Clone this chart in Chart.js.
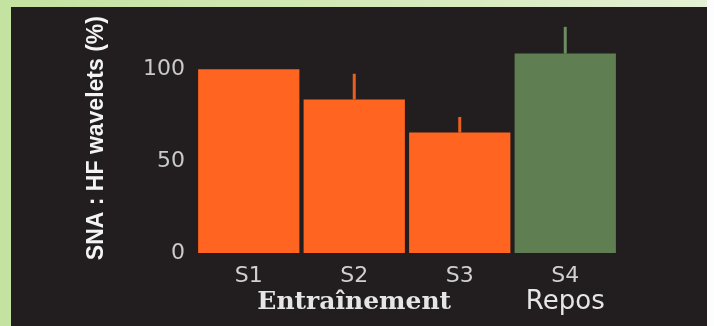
<!DOCTYPE html>
<html>
<head>
<meta charset="utf-8">
<script src="https://cdn.jsdelivr.net/npm/chart.js@4"></script>
<style>
    html, body { margin: 0; padding: 0; }
    body {
        width: 714px; height: 326px; position: relative; overflow: hidden;
        background: linear-gradient(90deg, #c4e2a0 0%, #d6ebbd 60%, #e4f1d4 100%);
    }
    #panel {
        position: absolute; left: 11px; top: 7px; width: 696px; height: 319px;
        background: #221e1f;
    }
    #rightEdge { position: absolute; left: 707px; top: 0; width: 7px; height: 326px; background: #fdfdfd; }
</style>
</head>
<body>
<div id="rightEdge"></div>
<div id="panel"><canvas id="snaChart" width="696" height="319"></canvas></div>
<script>
// Chart data
const categories = ['S1', 'S2', 'S3', 'S4'];
const hfValues = [100, 83.5, 65.5, 108.5];
const errorTops = [null, 97.5, 74, 123];
const barColors = ['#ff6420', '#ff6420', '#ff6420', '#5f7f52'];
const errorColors = ['#e8601e', '#e8601e', '#e8601e', '#6e8c62'];
const groupLabels = [
    { text: 'Entraînement', at: 'S2', font: 'bold 25px "DejaVu Serif", serif' },
    { text: 'Repos', at: 'S4', font: '26px "DejaVu Sans", sans-serif' }
];
const yTitle = 'SNA : HF wavelets (%)';

// Error bars drawn from the y scale
const errorBarPlugin = {
    id: 'errorBars',
    afterDatasetsDraw(chart) {
        const { ctx, scales: { x, y } } = chart;
        ctx.save();
        ctx.lineWidth = 3;
        errorTops.forEach((top, i) => {
            if (top === null) return;
            const px = x.getPixelForValue(i);
            ctx.strokeStyle = errorColors[i];
            ctx.beginPath();
            ctx.moveTo(px, y.getPixelForValue(hfValues[i]));
            ctx.lineTo(px, y.getPixelForValue(top));
            ctx.stroke();
        });
        ctx.restore();
    }
};

// Group captions under the category ticks
const groupLabelPlugin = {
    id: 'groupLabels',
    afterDraw(chart) {
        const { ctx, scales: { x }, chartArea } = chart;
        ctx.save();
        ctx.fillStyle = '#e6e6e6';
        ctx.textAlign = 'center';
        ctx.textBaseline = 'middle';
        groupLabels.forEach(g => {
            ctx.font = g.font;
            ctx.fillText(g.text, x.getPixelForValue(categories.indexOf(g.at)), chartArea.bottom + 49);
        });
        ctx.restore();
    }
};

const ctx = document.getElementById('snaChart').getContext('2d');
new Chart(ctx, {
    type: 'bar',
    data: {
        labels: categories,
        datasets: [{
            data: hfValues,
            backgroundColor: barColors,
            borderWidth: 0,
            barPercentage: 0.96,
            categoryPercentage: 1
        }]
    },
    options: {
        responsive: false,
        animation: false,
        layout: { padding: { left: 60, right: 89, top: 10, bottom: 0 } },
        plugins: {
            legend: { display: false },
            tooltip: { enabled: false }
        },
        scales: {
            y: {
                min: 0,
                max: 125,
                grid: { display: false },
                border: { display: false },
                ticks: {
                    stepSize: 50,
                    includeBounds: false,
                    padding: 3,
                    color: '#cacaca',
                    font: { family: '"DejaVu Sans", sans-serif', size: 22 }
                },
                title: {
                    display: true,
                    text: yTitle,
                    color: '#f4f4f4',
                    padding: { top: 12, bottom: 0 },
                    font: { family: '"Liberation Sans", Arial, sans-serif', size: 23, weight: 'bold' }
                },
                afterFit(scale) { scale.width = 125; }
            },
            x: {
                grid: { display: false },
                border: { display: false },
                ticks: {
                    padding: 2,
                    color: '#d0d0d0',
                    font: { family: '"DejaVu Sans", sans-serif', size: 22 }
                },
                afterFit(scale) { scale.height = 73; }
            }
        }
    },
    plugins: [errorBarPlugin, groupLabelPlugin]
});
</script>
</body>
</html>
